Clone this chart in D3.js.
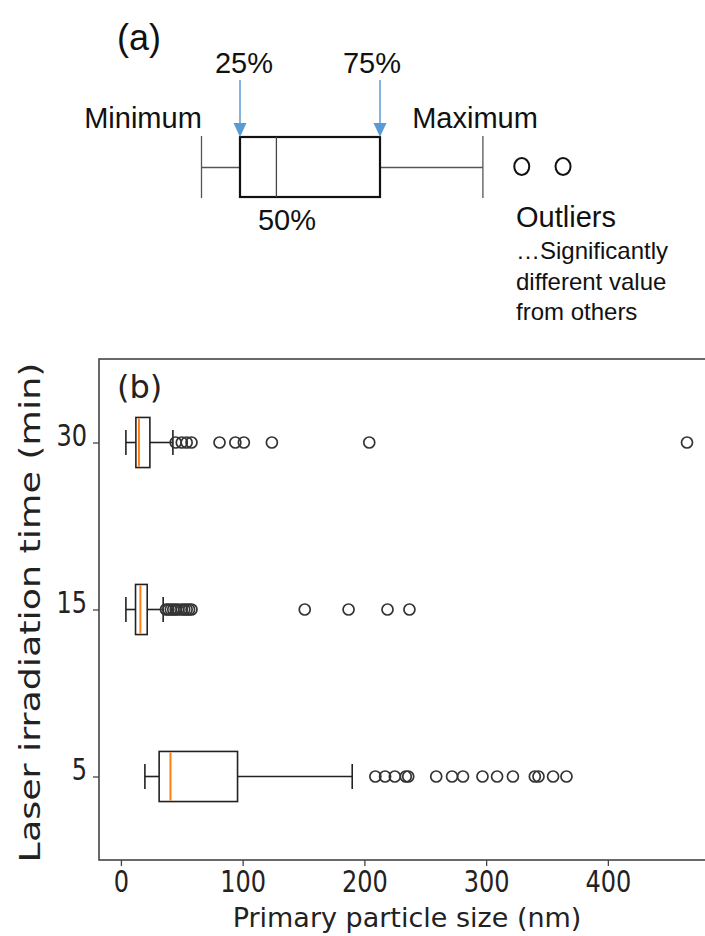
<!DOCTYPE html>
<html lang="en">
<head>
<meta charset="UTF-8">
<title>Box plots</title>
<script src="https://d3js.org/d3.v7.min.js"></script>
<style>
  body { margin: 0; background: #fff; }
  svg { display: block; }
  .schema text { font-family: "Liberation Sans", Arial, sans-serif; fill: #111; }
  .plot text { font-family: "DejaVu Sans", sans-serif; fill: #222; }
</style>
</head>
<body>
<svg id="main" width="705" height="936"></svg>
<script>
// ---- panel (a): schematic box ----
const schemaStats = [19, 30, 40.4, 70, 99.4];   // min, 25%, 50%, 75%, max
const schemaOutliers = [110.5, 122.3];

// ---- panel (b): laser irradiation time vs primary particle size ----
const categories = ["5", "15", "30"];
const whiskerLow = [19.7, 4.1, 4.1];
const q1 = [31.4, 12.0, 12.3];
const medians = [40.7, 16.0, 14.8];
const q3 = [95.8, 21.6, 23.8];
const whiskerHigh = [190, 34.7, 42.7];
const outliers = [
  [209, 217, 225, 234, 236, 259, 272, 281, 297, 309, 322, 340, 343, 355, 366],
  [37, 39, 41, 43, 45, 47, 50, 52, 54, 56, 58, 151, 187, 219, 237],
  [45, 50, 54, 58, 81, 94, 101, 124, 204, 465]
];
const xTicks = [0, 100, 200, 300, 400];

const svg = d3.select("#main");

// ----- (a) -----
const ga = svg.append("g").attr("class", "schema");
const sx = d3.scaleLinear().domain([0, 130]).range([135, 590]);
const boxTop = 137, boxBot = 197, boxMid = 167.5;

ga.append("text").attr("x", 139).attr("y", 50).attr("text-anchor", "middle")
  .style("font-size", "36px").text("(a)");

ga.append("line").attr("x1", sx(schemaStats[0])).attr("x2", sx(schemaStats[1]))
  .attr("y1", boxMid).attr("y2", boxMid).attr("stroke", "#555").attr("stroke-width", 1.3);
ga.append("line").attr("x1", sx(schemaStats[3])).attr("x2", sx(schemaStats[4]))
  .attr("y1", boxMid).attr("y2", boxMid).attr("stroke", "#555").attr("stroke-width", 1.3);
[schemaStats[0], schemaStats[4]].forEach(v => {
  ga.append("line").attr("x1", sx(v)).attr("x2", sx(v))
    .attr("y1", boxTop - 1).attr("y2", boxBot + 1).attr("stroke", "#555").attr("stroke-width", 1.3);
});
ga.append("rect").attr("x", sx(schemaStats[1])).attr("y", boxTop)
  .attr("width", sx(schemaStats[3]) - sx(schemaStats[1])).attr("height", boxBot - boxTop)
  .attr("fill", "none").attr("stroke", "#111").attr("stroke-width", 2.2);
ga.append("line").attr("x1", sx(schemaStats[2])).attr("x2", sx(schemaStats[2]))
  .attr("y1", boxTop).attr("y2", boxBot).attr("stroke", "#444").attr("stroke-width", 1.3);

ga.selectAll("ellipse.out").data(schemaOutliers).join("ellipse")
  .attr("cx", d => sx(d)).attr("cy", boxMid - 1).attr("rx", 7.5).attr("ry", 8.5)
  .attr("fill", "none").attr("stroke", "#111").attr("stroke-width", 2);

// arrows to quartiles
[schemaStats[1], schemaStats[3]].forEach(v => {
  const ax = sx(v);
  ga.append("line").attr("x1", ax).attr("x2", ax).attr("y1", 80).attr("y2", 125)
    .attr("stroke", "#5b9bd5").attr("stroke-width", 1.5);
  ga.append("path").attr("d", `M${ax - 6.5},123 L${ax + 6.5},123 L${ax},137 Z`).attr("fill", "#5b9bd5");
});

ga.append("text").attr("x", 244).attr("y", 73).attr("text-anchor", "middle")
  .style("font-size", "29px").text("25%");
ga.append("text").attr("x", 372).attr("y", 73).attr("text-anchor", "middle")
  .style("font-size", "29px").text("75%");
ga.append("text").attr("x", 143).attr("y", 128).attr("text-anchor", "middle")
  .style("font-size", "29px").text("Minimum");
ga.append("text").attr("x", 475).attr("y", 128).attr("text-anchor", "middle")
  .style("font-size", "29px").text("Maximum");
ga.append("text").attr("x", 287).attr("y", 230).attr("text-anchor", "middle")
  .style("font-size", "29px").text("50%");
ga.append("text").attr("x", 516).attr("y", 227)
  .style("font-size", "29px").text("Outliers");
["\u2026Significantly", "different value", "from others"].forEach((t, i) => {
  ga.append("text").attr("x", 516).attr("y", 259 + i * 30.5)
    .style("font-size", "24px").text(t);
});

// ----- (b) -----
const gb = svg.append("g").attr("class", "plot");
const plotLeft = 99, plotRight = 715, plotTop = 359, plotBottom = 860;
const x = d3.scaleLinear().domain([-18, 488]).range([plotLeft, plotRight]);
const y = d3.scaleLinear().domain([0.5, 3.5]).range([plotBottom, plotTop]);
const boxH = y(0) - y(0.3);
const capH = y(0) - y(0.15);
const stretch = 1.28;   // the figure's text is drawn taller than wide

gb.append("rect").attr("x", plotLeft).attr("y", plotTop)
  .attr("width", plotRight - plotLeft).attr("height", plotBottom - plotTop)
  .attr("fill", "none").attr("stroke", "#444").attr("stroke-width", 1.6);

gb.append("g").attr("transform", `translate(0,${plotBottom})`)
  .call(d3.axisBottom(x).tickValues(xTicks).tickSize(6).tickPadding(2))
  .call(g => g.select(".domain").remove())
  .call(g => g.selectAll("line").attr("stroke", "#444").attr("stroke-width", 1.3))
  .call(g => g.selectAll("text").style("font-size", "24px").attr("fill", "#222")
    .attr("transform", `scale(1,${stretch})`));

gb.append("g").attr("transform", `translate(${plotLeft},0)`)
  .call(d3.axisLeft(y).tickValues([1, 2, 3]).tickFormat(d => categories[d - 1]).tickSize(6).tickPadding(6))
  .call(g => g.select(".domain").remove())
  .call(g => g.selectAll("line").attr("stroke", "#444").attr("stroke-width", 1.3))
  .call(g => g.selectAll("text").style("font-size", "24px").attr("fill", "#222")
    .attr("dy", "0.1em").attr("transform", `scale(1,${stretch})`));

categories.forEach((c, i) => {
  const cy = y(i + 1);
  const g = gb.append("g");
  g.append("line").attr("x1", x(whiskerLow[i])).attr("x2", x(q1[i])).attr("y1", cy).attr("y2", cy)
    .attr("stroke", "#222").attr("stroke-width", 1.6);
  g.append("line").attr("x1", x(q3[i])).attr("x2", x(whiskerHigh[i])).attr("y1", cy).attr("y2", cy)
    .attr("stroke", "#222").attr("stroke-width", 1.6);
  [whiskerLow[i], whiskerHigh[i]].forEach(v => {
    g.append("line").attr("x1", x(v)).attr("x2", x(v)).attr("y1", cy - capH / 2).attr("y2", cy + capH / 2)
      .attr("stroke", "#222").attr("stroke-width", 1.6);
  });
  g.append("rect").attr("x", x(q1[i])).attr("y", cy - boxH / 2)
    .attr("width", x(q3[i]) - x(q1[i])).attr("height", boxH)
    .attr("fill", "none").attr("stroke", "#222").attr("stroke-width", 1.6);
  g.append("line").attr("x1", x(medians[i])).attr("x2", x(medians[i]))
    .attr("y1", cy - boxH / 2 + 1).attr("y2", cy + boxH / 2 - 1)
    .attr("stroke", "#ff7f0e").attr("stroke-width", 2);
  g.selectAll("circle").data(outliers[i]).join("circle")
    .attr("cx", d => x(d)).attr("cy", cy).attr("r", 5.5)
    .attr("fill", "none").attr("stroke", "#333").attr("stroke-width", 1.7);
});

gb.append("text").attr("x", 117).attr("y", 398).style("font-size", "32px").text("(b)");

gb.append("text").attr("x", (plotLeft + plotRight) / 2).attr("y", 927).attr("text-anchor", "middle")
  .style("font-size", "27px").text("Primary particle size (nm)");
gb.append("text")
  .attr("transform", `translate(40,${(plotTop + plotBottom) / 2 + 3}) rotate(-90) scale(1.3,1)`)
  .attr("text-anchor", "middle").style("font-size", "28px").text("Laser irradiation time (min)");
</script>
</body>
</html>
